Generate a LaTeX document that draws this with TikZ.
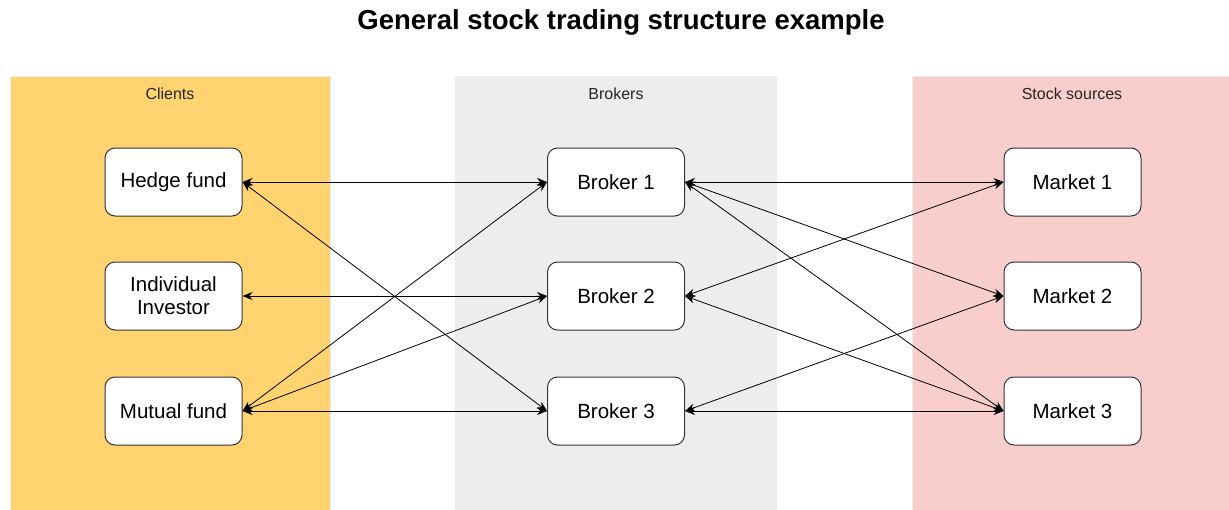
\documentclass[tikz,border=0pt]{standalone}
\usepackage{fontspec}
\setmainfont{Liberation Sans}
\usetikzlibrary{arrows.meta}
\definecolor{clientfill}{HTML}{FFD470}
\definecolor{brokerfill}{HTML}{EDEDED}
\definecolor{sourcefill}{HTML}{F8CECC}
\definecolor{boxline}{HTML}{333333}
\begin{document}
\begin{tikzpicture}[x=1pt,y=-1pt,
  panel/.style={draw=black!8,line width=0.8pt},
  panellabel/.style={font=\fontsize{16}{18}\selectfont,text=black!85},
  entity/.style={draw=boxline,fill=white,rounded corners=10pt,line width=1pt,
    minimum width=137pt,minimum height=68pt,align=center,inner sep=0pt,
    font=\fontsize{20.5}{23}\selectfont},
  link/.style={line width=0.8pt,{Stealth[length=10pt,width=8pt]}-{Stealth[length=10pt,width=8pt]}}]
  \useasboundingbox (0,0) rectangle (1229,509);
  % title
  \node[font=\fontsize{27.5}{32}\selectfont\bfseries] (title) at (621,22) {General stock trading structure example};
  % column panels
  \fill[clientfill] (10,76) rectangle (330,512);
  \draw[panel] (10,76) rectangle (330,512);
  \fill[brokerfill] (455,76) rectangle (776,512);
  \draw[panel] (455,76) rectangle (776,512);
  \fill[sourcefill] (912,76) rectangle (1232,512);
  \draw[panel] (912,76) rectangle (1232,512);
  \node[panellabel] (clients) at (170,94) {Clients};
  \node[panellabel] (brokers) at (616,94) {Brokers};
  \node[panellabel] (sources) at (1072,94) {Stock sources};
  % clients
  \node[entity] (hedge) at (173.5,182) {Hedge fund};
  \node[entity] (indiv) at (173.5,296) {Individual\\Investor};
  \node[entity] (mutual) at (173.5,411) {Mutual fund};
  % brokers
  \node[entity] (b1) at (616,182) {Broker 1};
  \node[entity] (b2) at (616,296) {Broker 2};
  \node[entity] (b3) at (616,411) {Broker 3};
  % markets
  \node[entity] (m1) at (1072.5,182) {Market 1};
  \node[entity] (m2) at (1072.5,296) {Market 2};
  \node[entity] (m3) at (1072.5,411) {Market 3};
  % client-broker links
  \draw[link] (hedge.east) -- (b1.west);
  \draw[link] (hedge.east) -- (b3.west);
  \draw[link] (indiv.east) -- (b2.west);
  \draw[link] (mutual.east) -- (b1.west);
  \draw[link] (mutual.east) -- (b2.west);
  \draw[link] (mutual.east) -- (b3.west);
  % broker-market links
  \draw[link] (b1.east) -- (m1.west);
  \draw[link] (b1.east) -- (m2.west);
  \draw[link] (b1.east) -- (m3.west);
  \draw[link] (b2.east) -- (m1.west);
  \draw[link] (b2.east) -- (m3.west);
  \draw[link] (b3.east) -- (m2.west);
  \draw[link] (b3.east) -- (m3.west);
\end{tikzpicture}
\end{document}
